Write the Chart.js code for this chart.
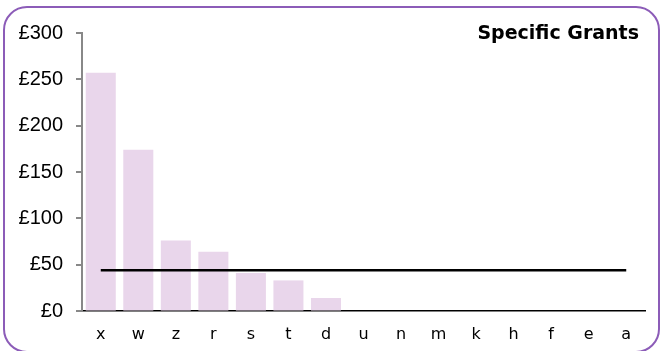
<!DOCTYPE html>
<html>
<head>
<meta charset="utf-8">
<script src="https://cdn.jsdelivr.net/npm/chart.js@4"></script>
<style>
    html, body { margin: 0; padding: 0; background: #fff; }
    .frame {
        position: absolute; left: 3px; top: 6px; width: 653px; height: 343px;
        border: 2px solid #8c5cb8; border-radius: 24px;
    }
    canvas { position: absolute; left: 0; top: 0; }
</style>
</head>
<body>
<div class="frame"></div>
<canvas id="grantsChart" width="661" height="351"></canvas>

<script>
    const categories = ["x", "w", "z", "r", "s", "t", "d", "u", "n", "m", "k", "h", "f", "e", "a"];
    const grants = [257, 174, 76, 64, 41, 33, 14, 0, 0, 0, 0, 0, 0, 0, 0];
    const average = [44, 44, 44, 44, 44, 44, 44, 44, 44, 44, 44, 44, 44, 44, 44];
    const yMax = 300;
    const yStep = 50;

    // title sits inside the plot, top right
    const cornerTitle = {
        id: "cornerTitle",
        afterDraw(chart){
            const ctx = chart.ctx;
            ctx.save();
            ctx.font = "bold 19px 'DejaVu Sans'";
            ctx.fillStyle = "#000";
            ctx.textAlign = "right";
            ctx.textBaseline = "alphabetic";
            ctx.fillText("Specific Grants", 639, 39);
            ctx.restore();
        }
    };

    // short outward tick marks on the value axis
    const yTickMarks = {
        id: "yTickMarks",
        afterDraw(chart){
            const y = chart.scales.y;
            const x0 = chart.chartArea.left;
            const ctx = chart.ctx;
            ctx.save();
            ctx.fillStyle = "#888";
            y.ticks.forEach(t => {
                const py = Math.round(y.getPixelForValue(t.value));
                ctx.fillRect(x0 - 6, py - 1, 6, 2);
            });
            ctx.restore();
        }
    };

    new Chart(document.getElementById("grantsChart"), {
        data: {
            labels: categories,
            datasets: [{
                type: "line",
                data: average,
                borderColor: "#000",
                borderWidth: 2.5,
                pointRadius: 0,
                order: 0
            }, {
                type: "bar",
                data: grants,
                backgroundColor: "rgb(233, 214, 235)",
                borderWidth: 0,
                categoryPercentage: 1,
                barPercentage: 0.8,
                order: 1
            }]
        },
        options: {
            responsive: false,
            animation: false,
            layout: { padding: { top: 33, right: 16, left: 0, bottom: 0 } },
            plugins: {
                legend: { display: false },
                tooltip: { enabled: false }
            },
            scales: {
                x: {
                    grid: { drawOnChartArea: false, drawTicks: false },
                    border: { color: "#000", width: 1.5 },
                    ticks: {
                        padding: 14,
                        color: "#000",
                        font: { family: "'DejaVu Sans'", size: 16 }
                    },
                    afterFit(scale){ scale.height = 40; }
                },
                y: {
                    min: 0,
                    max: yMax,
                    grid: { drawOnChartArea: false, drawTicks: false },
                    border: { color: "#888", width: 2 },
                    ticks: {
                        stepSize: yStep,
                        padding: 19,
                        color: "#000",
                        font: { family: "'Liberation Sans'", size: 20 },
                        callback: v => "£" + v
                    },
                    afterFit(scale){ scale.width = 82; }
                }
            }
        },
        plugins: [cornerTitle, yTickMarks]
    });
</script>
</body>
</html>
